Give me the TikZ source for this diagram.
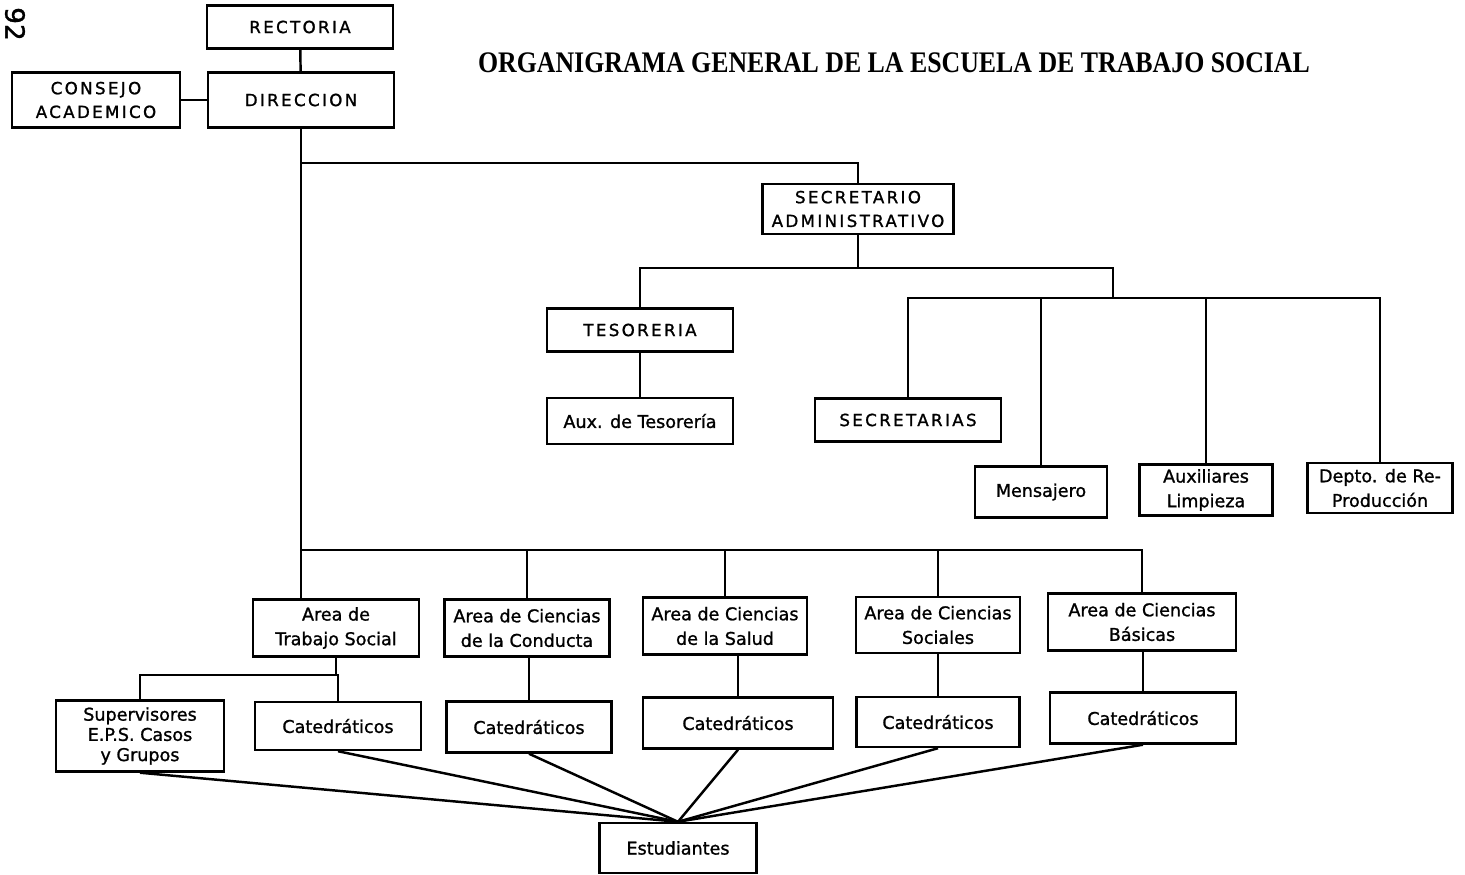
\documentclass[tikz,border=0pt]{standalone}
\usepackage{fontspec}
\setmainfont{Liberation Serif}
\setsansfont{DejaVu Sans}[FakeBold=1.2]
\newfontfamily\capsfont{DejaVu Sans}[LetterSpace=14, FakeBold=1.2]
\usetikzlibrary{positioning}
\tikzset{
    box/.style={draw, line width=1.4pt, align=center, inner sep=2pt,
        font=\sffamily\fontsize{10}{14}\selectfont},
    capsbox/.style={box, font=\capsfont\fontsize{9.5}{13.5}\selectfont},
    link/.style={line width=1.4pt}
}

\begin{document}
\begin{tikzpicture}[x=0.02cm, y=-0.02cm]
    \fill[white] (0,0) rectangle (1465,875);
    \useasboundingbox (0,0) rectangle (1465,875);
    \node[rotate=-90, font=\sffamily\fontsize{15}{15}\selectfont] (pag) at (15,24) {92};
    \node (title) at (894,63) {\scalebox{0.865}[1]{\fontsize{17}{20}\selectfont\bfseries ORGANIGRAMA GENERAL DE LA ESCUELA DE TRABAJO SOCIAL}};

    % Direccion
    \node[capsbox, minimum width=3.72cm, minimum height=0.86cm] (rect) at (300,27) {RECTORIA};
    \node[capsbox, minimum width=3.72cm, minimum height=1.10cm] (dir) at (301,100) {DIRECCION};
    \node[capsbox, minimum width=3.36cm, minimum height=1.10cm] (cons) at (96,100) {CONSEJO\\ACADEMICO};
    \draw[link] (rect) -- (dir);
    \draw[link] (cons) -- (dir);

    % Administracion
    \node[capsbox, minimum width=3.82cm, minimum height=1.00cm, inner sep=1pt] (secadm) at (858,209) {SECRETARIO\\ADMINISTRATIVO};
    \node[capsbox, minimum width=3.72cm, minimum height=0.86cm] (teso) at (640,330) {TESORERIA};
    \node[box, minimum width=3.72cm, minimum height=0.92cm] (auxteso) at (640,421) {Aux. de Tesorería};
    \node[capsbox, minimum width=3.72cm, minimum height=0.86cm] (secr) at (908,420) {SECRETARIAS};
    \node[box, minimum width=2.64cm, minimum height=1.02cm] (mens) at (1041,492) {Mensajero};
    \node[box, minimum width=2.66cm, minimum height=1.02cm] (auxl) at (1206,490) {Auxiliares\\Limpieza};
    \node[box, minimum width=2.90cm, minimum height=1.00cm] (depto) at (1380,488) {Depto. de Re-\\Producción};
    \coordinate (b1) at (301,163);
    \coordinate (s1) at (858,268);
    \coordinate (r1) at (1113,298);
    \draw[link] (b1) -| (secadm.north);
    \draw[link] (secadm.south) -- (s1);
    \draw[link] (teso.north) |- (s1) -| (r1);
    \draw[link] (teso) -- (auxteso);
    \draw[link] (secr.north) |- (r1) -| (depto.north);
    \draw[link] (mens.north) -- (mens.north |- r1);
    \draw[link] (auxl.north) -- (auxl.north |- r1);

    % Areas
    \node[box, minimum width=3.32cm, minimum height=1.14cm] (ats) at (336,628) {Area de\\Trabajo Social};
    \node[box, minimum width=3.30cm, minimum height=1.14cm] (acc) at (527,628) {Area de Ciencias\\de la Conducta};
    \node[box, minimum width=3.28cm, minimum height=1.14cm] (acs) at (725,626) {Area de Ciencias\\de la Salud};
    \node[box, minimum width=3.28cm, minimum height=1.12cm] (asoc) at (938,625) {Area de Ciencias\\Sociales};
    \node[box, minimum width=3.76cm, minimum height=1.14cm] (abas) at (1142,622) {Area de Ciencias\\Básicas};
    \coordinate (l1) at (301,550);
    \draw[link] (dir.south) -- (dir.south |- ats.north);
    \draw[link] (l1) -| (abas.north);
    \foreach \a in {acc, acs, asoc}
        \draw[link] (\a.north) -- (\a.north |- l1);

    % Catedraticos
    \node[box, minimum width=3.36cm, minimum height=1.42cm, font=\sffamily\fontsize{10}{11.5}\selectfont] (sup) at (140,736) {Supervisores\\E.P.S. Casos\\y Grupos};
    \node[box, minimum width=3.32cm, minimum height=0.96cm] (cat1) at (338,726) {Catedráticos};
    \node[box, minimum width=3.30cm, minimum height=1.02cm] (cat2) at (529,727) {Catedráticos};
    \node[box, minimum width=3.80cm, minimum height=1.02cm] (cat3) at (738,723) {Catedráticos};
    \node[box, minimum width=3.26cm, minimum height=1.00cm] (cat4) at (938,722) {Catedráticos};
    \node[box, minimum width=3.72cm, minimum height=1.02cm] (cat5) at (1143,718) {Catedráticos};
    \coordinate (t1) at (336,675);
    \draw[link] (ats.south) -- (t1);
    \draw[link] (sup.north) |- (t1) -| (cat1.north);
    \draw[link] (cat2.north |- acc.south) -- (cat2.north);
    \draw[link] (cat3.north |- acs.south) -- (cat3.north);
    \draw[link] (cat4.north |- asoc.south) -- (cat4.north);
    \draw[link] (cat5.north |- abas.south) -- (cat5.north);

    % Estudiantes
    \node[box, minimum width=3.14cm, minimum height=1.00cm] (est) at (678,848) {Estudiantes};
    \foreach \c in {sup, cat1, cat2, cat3, cat4, cat5}
        \draw[link] (\c.south) -- (est.north);
\end{tikzpicture}
\end{document}
